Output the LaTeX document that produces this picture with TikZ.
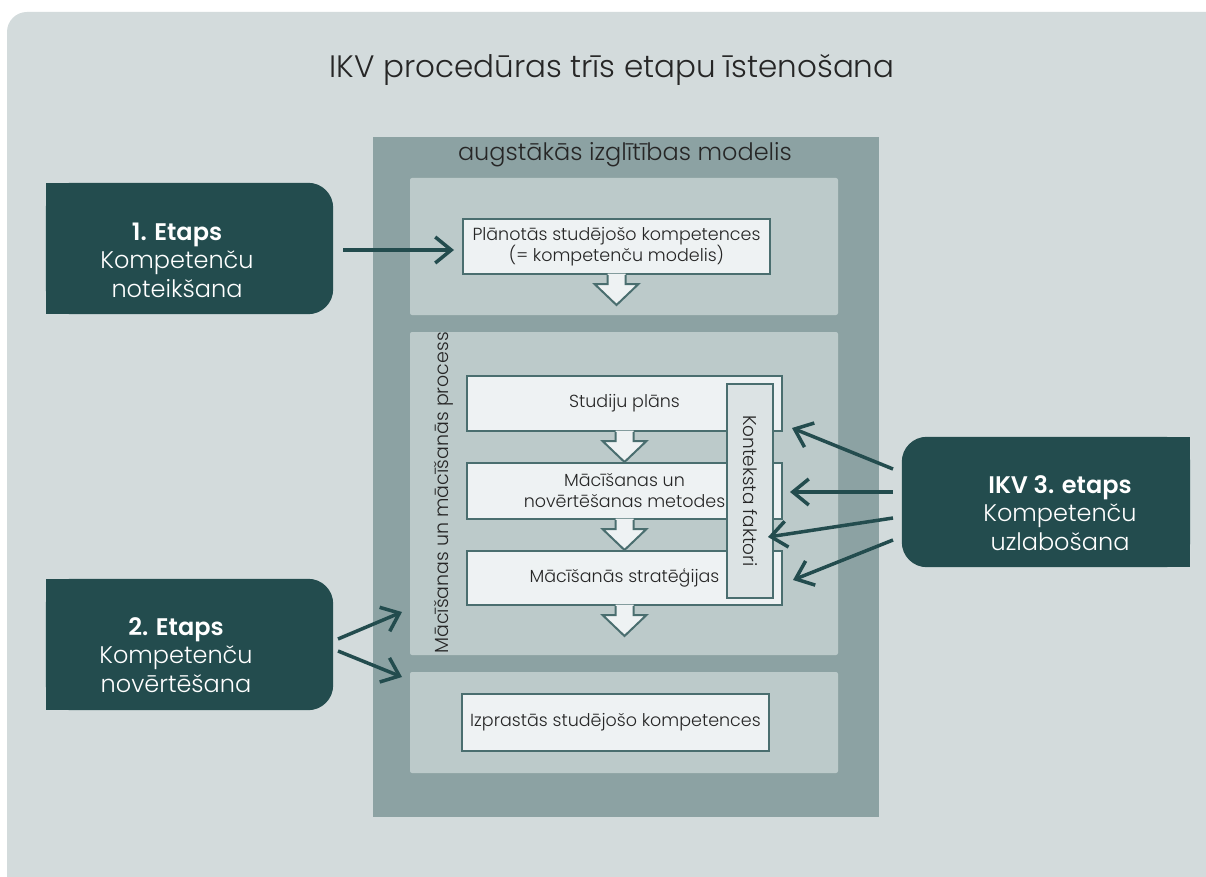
\documentclass[tikz,border=0pt]{standalone}
\usepackage{fontspec}
\setmainfont{Poppins Light}[BoldFont=Poppins SemiBold]
\usetikzlibrary{arrows.meta}
\definecolor{bgpanel}{HTML}{D3DBDC}
\definecolor{modelc}{HTML}{8CA2A3}
\definecolor{panelc}{HTML}{BCCACA}
\definecolor{boxfill}{HTML}{EEF2F3}
\definecolor{boxline}{HTML}{4A6E6F}
\definecolor{kfill}{HTML}{DCE3E4}
\definecolor{darkc}{HTML}{234C4E}
\definecolor{txt}{HTML}{262626}
\newcommand\dnarrow[1]{%
  \fill[boxfill] ([xshift=-9pt,yshift=1.5pt]#1.south) -- ++(0,10.5) -- ++(-13,0) -- ++(22,21) -- ++(22,-21) -- ++(-13,0) -- ++(0,-10.5) -- cycle;
  \draw[draw=boxline,line width=2pt] ([xshift=-9pt]#1.south) -- ++(0,9) -- ++(-13,0) -- ++(22,21) -- ++(22,-21) -- ++(-13,0) -- ++(0,-9);}
\begin{document}
\begin{tikzpicture}[x=1pt,y=-1pt,
  wbox/.style={draw=boxline, line width=2pt, fill=boxfill, inner sep=2pt, align=center, text=txt, font=\fontsize{17.5}{21}\selectfont},
  panel/.style={fill=panelc, rounded corners=2pt, inner sep=0pt},
  darkbox/.style={inner sep=0pt, minimum width=287pt, minimum height=131pt},
  darktext/.style={text=white, align=center, font=\fontsize{24}{28.5}\selectfont},
  arr/.style={draw=darkc, line width=3.5pt, -{Straight Barb[length=16pt,width=26pt]}}]
\useasboundingbox (0,0) rectangle (1206,877);
\fill[white] (0,0) rectangle (1206,877);
\fill[bgpanel, rounded corners=20pt] (7,12) rectangle (1240,910);
% title
\node[text=txt, font=\fontsize{31}{36}\selectfont] (title) at (612,70) {IKV procedūras trīs etapu īstenošana};
% model
\fill[modelc] (373,137) rectangle (879,817);
\node[text=txt, font=\fontsize{24}{28}\selectfont] (mtitle) at (625,155) {augstākās izglītības modelis};
\node[panel, minimum width=428pt, minimum height=137pt] (p1) at (624,246.5) {};
\node[panel, minimum width=428pt, minimum height=323pt] (p2) at (624,493.5) {};
\node[panel, minimum width=428pt, minimum height=101pt] (p3) at (624,722.5) {};
% boxes
\node[wbox, minimum width=307pt, minimum height=55pt] (plan) at (616.5,246.5) {Plānotās studējošo kompetences\\(= kompetenču modelis)};
\dnarrow{plan}
\node[wbox, minimum width=315pt, minimum height=55pt] (stud) at (624.5,403.5) {Studiju plāns};
\dnarrow{stud}
\node[wbox, minimum width=315pt, minimum height=56pt] (mac) at (624.5,491) {Mācīšanas un\\novērtēšanas metodes};
\dnarrow{mac}
\node[wbox, minimum width=315pt, minimum height=54pt] (strat) at (624.5,578) {Mācīšanās stratēģijas};
\dnarrow{strat}
\node[wbox, fill=kfill, rotate=-90, minimum width=214pt, minimum height=46pt, font=\fontsize{18.5}{22}\selectfont] (kf) at (750,491) {Konteksta faktori};
\node[text=txt, rotate=90, font=\fontsize{19}{22}\selectfont] (proc) at (444,493) {Mācīšanas un mācīšanās process};
\node[wbox, minimum width=307pt, minimum height=57pt] (izpr) at (615.5,722.5) {Izprastās studējošo kompetences};
% dark boxes
\node[darkbox] (e1) at (189.5,248.5) {};
\fill[darkc, rounded corners=25pt] (e1.south west) rectangle (e1.north east);
\fill[darkc] (e1.south west) rectangle ([xshift=60pt]e1.north west);
\node[darktext] (e1t) at (177,260) {\textbf{1. Etaps}\\Kompetenču\\noteikšana};
\node[darkbox] (e2) at (189.5,644.5) {};
\fill[darkc, rounded corners=25pt] (e2.south west) rectangle (e2.north east);
\fill[darkc] (e2.south west) rectangle ([xshift=60pt]e2.north west);
\node[darktext] (e2t) at (176,655) {\textbf{2. Etaps}\\Kompetenču\\novērtēšana};
\node[darkbox, minimum width=288pt, minimum height=130pt] (e3) at (1046,502) {};
\fill[darkc, rounded corners=25pt] (e3.south west) rectangle (e3.north east);
\fill[darkc] ([xshift=-60pt]e3.south east) rectangle (e3.north east);
\node[darktext] (e3t) at (1060,513) {\textbf{IKV 3. etaps}\\Kompetenču\\uzlabošana};
% arrows
\coordinate (a1s) at (343,250);
\draw[arr] (a1s) -- ([xshift=-8pt]a1s -| plan.west);
\coordinate (a2s) at (338,639);
\coordinate (a2e) at (402,612);
\coordinate (a3s) at (338,651);
\coordinate (a3e) at (402,677);
\draw[arr] (a2s) -- (a2e);
\draw[arr] (a3s) -- (a3e);
\coordinate (b1s) at (893,469);
\coordinate (b1e) at (792,428);
\coordinate (b2s) at (893,492);
\coordinate (b2e) at (790,492);
\coordinate (b3s) at (893,518);
\coordinate (b3e) at (768,537);
\coordinate (b4s) at (893,540);
\coordinate (b4e) at (793,580);
\draw[arr] (b1s) -- (b1e);
\draw[arr] (b2s) -- (b2e);
\draw[arr] (b3s) -- (b3e);
\draw[arr] (b4s) -- (b4e);
\end{tikzpicture}
\end{document}
